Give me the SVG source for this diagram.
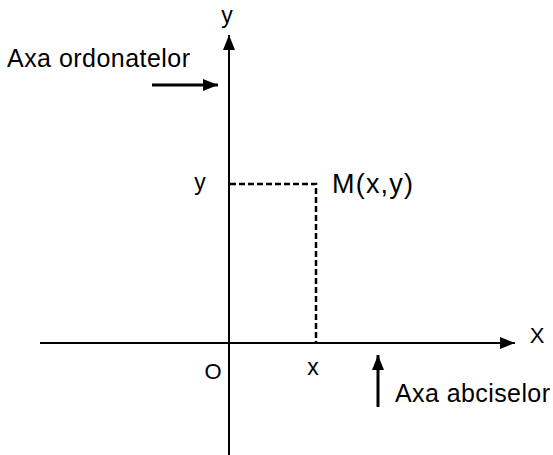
<svg xmlns="http://www.w3.org/2000/svg" width="553" height="455" viewBox="0 0 553 455">
<style>
text{font-family:"Liberation Sans",Arial,sans-serif;fill:#000}
.ax{stroke:#000;stroke-width:2;fill:none}
.ptr{stroke:#000;stroke-width:3;fill:none}
.dash{stroke:#000;stroke-width:2.5;fill:none;stroke-dasharray:6 3}
</style>
<defs>
<marker id="ah" markerWidth="16" markerHeight="12" refX="15" refY="6" orient="auto" markerUnits="userSpaceOnUse">
<path d="M0,0 L15,6 L0,12 Z" fill="#000"/>
</marker>
</defs>
<rect width="553" height="455" fill="#fff"/>
<g id="connectors">
<line id="axis-x" class="ax" x1="40" y1="343" x2="515" y2="343" marker-end="url(#ah)"/>
<line id="axis-y" class="ax" x1="229" y1="455" x2="229" y2="35" marker-end="url(#ah)"/>
<polyline id="dash-m" class="dash" points="230,184 316,184 316,342"/>
<line id="arrow-ord" class="ptr" x1="152" y1="85" x2="218" y2="85" marker-end="url(#ah)"/>
<line id="arrow-abs" class="ptr" x1="378" y1="407" x2="378" y2="355" marker-end="url(#ah)"/>
</g>
<g id="label-y-top"><text x="227" y="23" font-size="23" text-anchor="middle">y</text></g>
<g id="label-ord"><text x="7" y="67" font-size="25" textLength="183" lengthAdjust="spacing">Axa ordonatelor</text></g>
<g id="label-y"><text x="200" y="190" font-size="23" text-anchor="middle">y</text></g>
<g id="label-M"><text x="332" y="193" font-size="27" textLength="81" lengthAdjust="spacing">M(x,y)</text></g>
<g id="label-X"><text x="537" y="343" font-size="22" text-anchor="middle">X</text></g>
<g id="label-O"><text x="213" y="379" font-size="22" text-anchor="middle">O</text></g>
<g id="label-x"><text x="313" y="375" font-size="23" text-anchor="middle">x</text></g>
<g id="label-abs"><text x="395" y="402" font-size="25" textLength="155" lengthAdjust="spacing">Axa abciselor</text></g>
</svg>
